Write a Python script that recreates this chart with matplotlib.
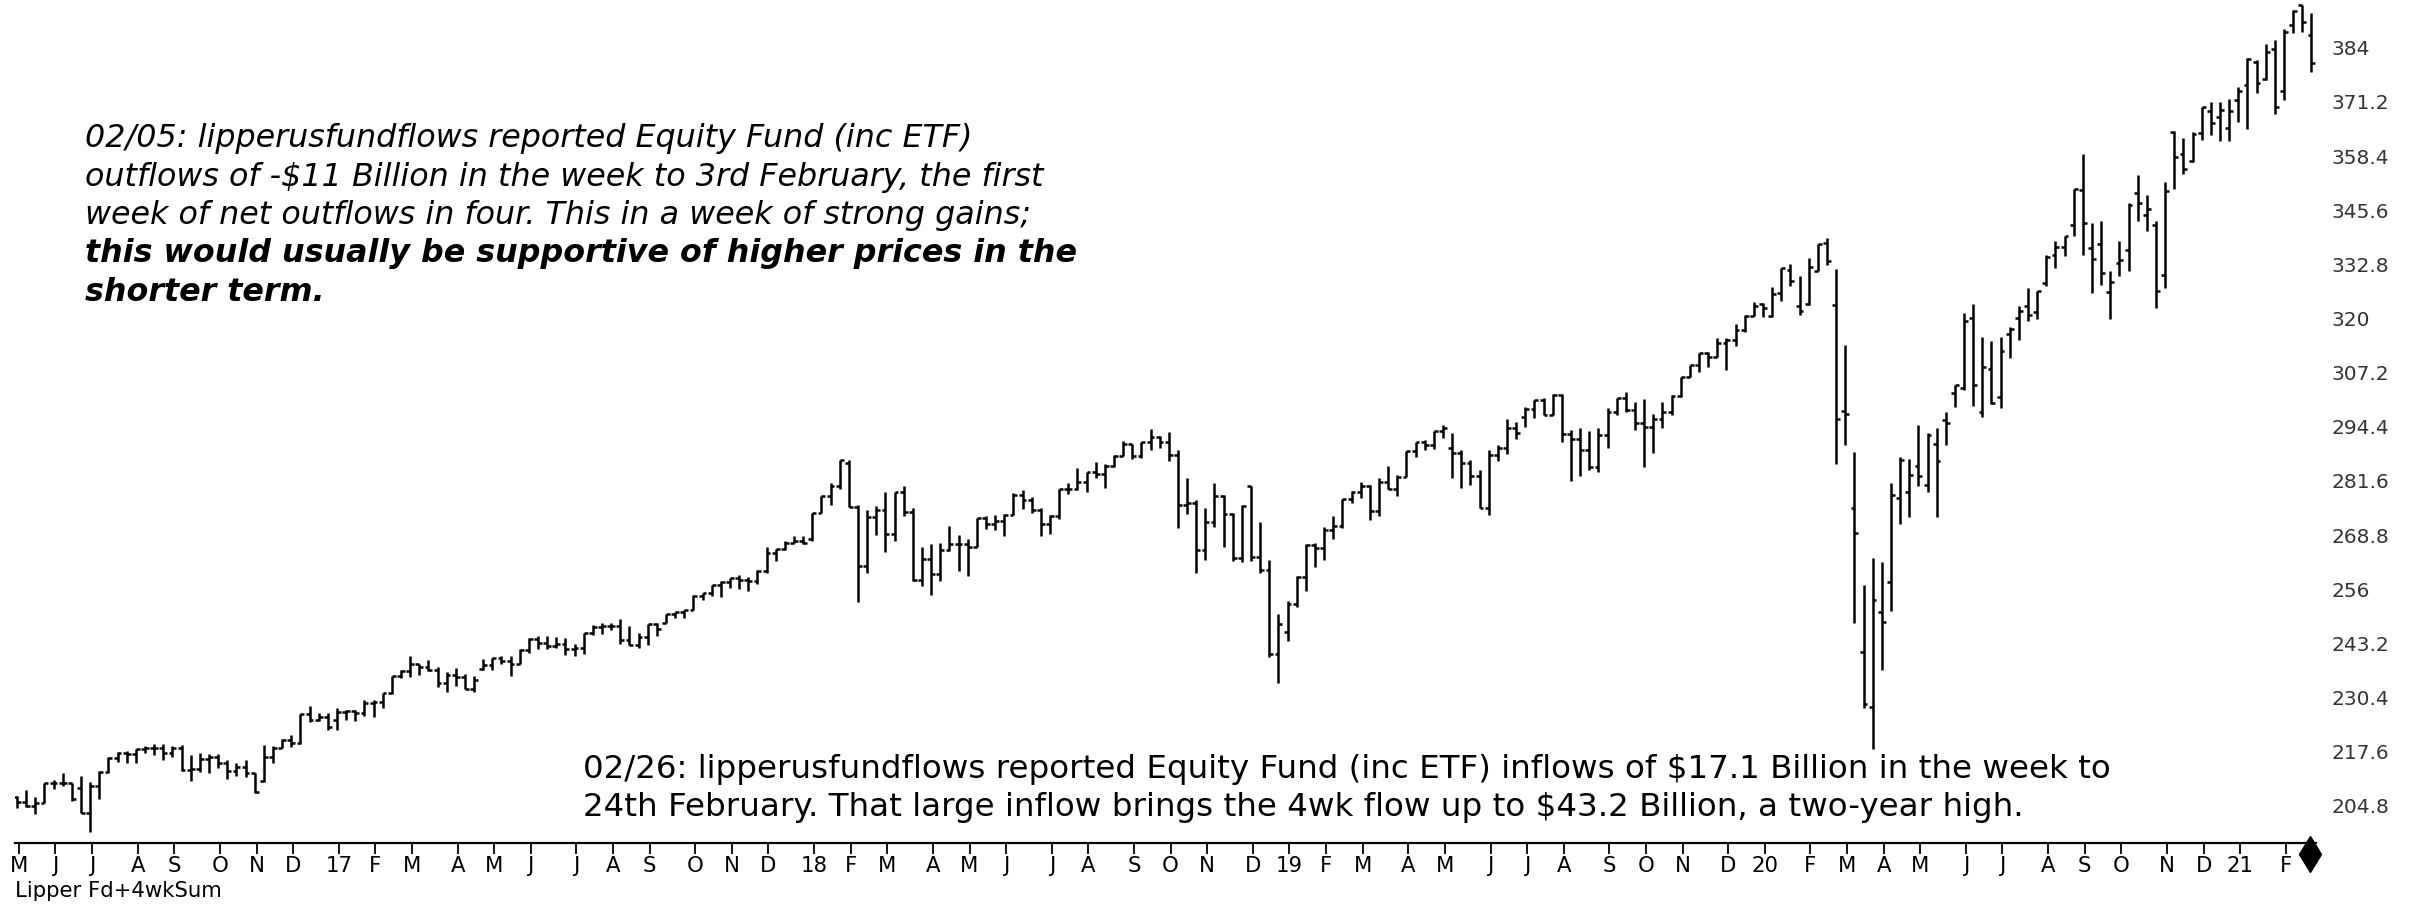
import numpy as np
import pandas as pd
import matplotlib
matplotlib.use("Agg")
import matplotlib.pyplot as plt
from matplotlib.transforms import blended_transform_factory

plt.rcParams['font.family'] = ['DejaVu Sans']

# weekly bars (week ending Friday), first bar 2016-05-06
first_week = "2016-05-06"

open_2016 = [206.9, 205.7, 204.8, 205.5, 210.2, 210.3, 210.1, 208.9, 203.2, 209.5, 212.7, 216.1, 217.2, 217.1, 218.2,
             218.5, 218.5, 217.3, 218.4, 213.3, 213.4, 215.8, 216.3, 215.0, 213.1, 214.0, 212.5, 210.7, 216.4, 218.5,
             220.4, 219.7, 226.5, 225.0, 225.7]
high_2016 = [207.0, 208.5, 206.8, 210.3, 211.0, 212.5, 210.3, 211.8, 210.5, 213.0, 216.3, 217.5, 217.7, 218.3, 219.0,
             219.3, 219.5, 218.9, 219.2, 216.7, 217.2, 217.1, 217.1, 215.7, 214.9, 215.7, 212.6, 219.2, 218.9, 220.5,
             221.5, 226.5, 228.3, 226.8, 226.7]
low_2016 = [204.2, 204.5, 202.8, 205.5, 208.7, 209.4, 205.9, 203.0, 198.6, 206.5, 212.6, 215.1, 214.8, 214.8, 217.3,
            216.9, 215.7, 216.4, 213.1, 210.7, 212.8, 212.6, 213.7, 211.2, 211.9, 211.6, 207.9, 210.4, 214.9, 218.5,
            218.7, 219.3, 224.7, 224.9, 222.7]
close_2016 = [205.7, 204.8, 205.5, 210.2, 210.3, 210.1, 206.5, 203.2, 209.5, 212.7, 216.1, 217.2, 217.1, 218.2, 218.5,
              218.5, 217.3, 218.4, 213.3, 213.4, 215.8, 216.3, 215.0, 213.1, 214.0, 212.5, 208.0, 216.4, 218.5, 220.4,
              219.7, 226.5, 225.0, 225.7, 223.5]

open_2017 = [225.0, 227.0, 227.1, 226.7, 229.0, 229.3, 231.5, 235.4, 236.7, 238.4, 237.7, 237.0, 233.9, 235.7, 235.2,
             232.5, 237.2, 238.1, 239.7, 239.0, 238.3, 241.7, 244.2, 243.4, 242.6, 243.1, 241.8, 242.1, 245.6, 247.1,
             247.3, 247.4, 244.1, 242.7, 244.6, 247.8, 248.0, 250.1, 250.6, 251.2, 254.4, 255.0, 257.1, 257.7, 258.7,
             258.1, 257.9, 260.4, 264.5, 265.5, 267.0, 267.5]
high_2017 = [227.8, 227.4, 227.4, 229.7, 229.7, 231.5, 235.4, 236.8, 240.3, 238.4, 239.2, 237.6, 236.5, 237.4, 236.0,
             235.5, 239.5, 239.7, 240.2, 240.2, 241.8, 244.4, 245.0, 245.0, 244.7, 244.4, 243.0, 245.6, 247.5, 248.0,
             248.0, 248.9, 247.3, 245.6, 247.8, 247.9, 250.1, 250.7, 251.2, 254.7, 255.0, 257.1, 257.9, 258.7, 259.4,
             259.0, 260.5, 266.0, 265.5, 267.3, 268.6, 268.6]
low_2017 = [222.8, 225.1, 224.9, 226.0, 225.7, 227.8, 231.3, 235.0, 235.2, 235.8, 236.6, 232.9, 231.6, 233.1, 232.5,
            231.6, 236.9, 237.0, 238.3, 235.4, 238.3, 240.9, 241.9, 241.8, 242.2, 240.4, 240.1, 240.6, 245.2, 245.5,
            246.4, 243.0, 242.7, 242.1, 242.9, 244.9, 248.0, 249.1, 249.1, 251.1, 253.5, 254.5, 254.1, 256.2, 256.1,
            255.6, 257.3, 259.9, 262.7, 265.2, 267.0, 266.6]
close_2017 = [227.0, 227.1, 226.7, 229.0, 229.3, 231.5, 235.4, 236.7, 238.4, 237.7, 237.0, 233.9, 235.7, 235.2, 232.5,
              234.6, 238.1, 239.7, 239.0, 238.3, 241.7, 244.2, 243.4, 242.6, 243.1, 241.8, 242.1, 245.6, 247.1, 247.3,
              247.4, 244.1, 242.7, 244.6, 247.8, 246.6, 250.1, 250.6, 251.2, 254.4, 255.0, 257.1, 257.7, 258.7, 258.1,
              257.9, 260.4, 264.5, 265.5, 267.0, 267.5, 266.9]

open_2018 = [267.8, 274.0, 278.1, 280.4, 285.9, 275.5, 261.5, 273.1, 274.7, 269.1, 278.9, 274.2, 258.1, 263.2, 259.7,
             265.2, 266.6, 266.6, 266.0, 272.9, 271.3, 272.2, 273.6, 278.2, 277.1, 274.7, 271.3, 273.3, 279.6, 279.7,
             281.4, 283.6, 283.2, 285.1, 287.5, 290.3, 287.6, 290.9, 292.0, 290.7, 287.8, 276.0, 276.3, 265.3, 271.9,
             278.0, 273.7, 263.3, 280.3, 263.6, 260.5, 240.7]
high_2018 = [274.1, 278.1, 281.0, 286.6, 286.6, 275.8, 274.7, 275.6, 278.9, 278.9, 280.4, 275.2, 265.9, 266.6, 267.0,
             271.0, 268.9, 267.9, 272.9, 273.4, 273.5, 273.7, 278.8, 279.5, 277.7, 275.3, 273.6, 279.8, 281.0, 284.6,
             283.7, 286.0, 285.6, 287.7, 291.1, 290.4, 290.9, 293.9, 292.2, 293.2, 288.9, 282.3, 277.1, 275.2, 281.2,
             278.3, 274.0, 276.0, 280.4, 272.0, 263.0, 250.2]
low_2018 = [267.4, 273.9, 276.0, 279.7, 275.4, 252.9, 259.8, 268.8, 264.8, 267.3, 273.2, 258.0, 256.7, 254.7, 258.0,
            265.0, 260.3, 259.1, 265.9, 270.3, 270.1, 268.5, 273.5, 275.0, 273.9, 268.5, 269.1, 272.7, 278.4, 279.4,
            278.9, 282.3, 280.0, 284.8, 287.4, 286.7, 287.1, 288.8, 289.3, 286.2, 270.4, 273.7, 259.9, 262.9, 270.8,
            266.0, 262.6, 262.4, 262.6, 259.9, 240.0, 233.8]
close_2018 = [274.0, 278.1, 280.4, 286.6, 275.5, 261.5, 273.1, 274.7, 269.1, 278.9, 274.2, 258.1, 263.2, 259.7, 265.2,
              266.6, 266.6, 266.0, 272.9, 271.3, 272.2, 273.6, 278.2, 277.1, 274.7, 271.3, 273.3, 279.6, 279.7, 281.4,
              283.6, 283.2, 285.1, 287.5, 290.3, 287.6, 290.9, 292.0, 290.7, 287.8, 276.0, 276.3, 265.3, 271.9, 278.0,
              273.7, 263.3, 275.7, 263.6, 260.5, 240.7, 247.8]

open_2019 = [246.0, 252.4, 259.0, 266.5, 265.8, 270.1, 271.0, 277.4, 279.1, 280.4, 274.5, 281.3, 279.6, 282.5, 288.6,
             290.7, 290.0, 293.4, 289.3, 288.1, 285.8, 282.8, 275.3, 287.7, 289.3, 294.0, 296.7, 298.5, 300.7, 297.2,
             302.0, 292.6, 291.6, 288.9, 284.9, 292.5, 297.8, 301.1, 298.3, 295.4, 294.4, 296.3, 298.0, 301.6, 306.1,
             309.0, 311.8, 311.0, 314.3, 314.9, 317.3, 320.7]
high_2019 = [253.1, 259.2, 266.8, 266.9, 270.7, 273.4, 277.4, 279.3, 281.3, 280.6, 282.2, 285.2, 283.0, 288.6, 290.7,
             291.2, 293.5, 294.9, 293.0, 289.0, 286.6, 284.2, 288.8, 290.0, 296.3, 295.6, 299.0, 300.7, 301.1, 302.2,
             302.2, 293.6, 294.1, 293.3, 294.2, 298.8, 301.2, 302.6, 300.2, 301.0, 297.5, 300.2, 302.0, 306.2, 309.0,
             311.8, 312.0, 315.5, 315.5, 318.7, 320.9, 323.8]
low_2019 = [243.7, 251.7, 255.5, 261.3, 263.0, 267.8, 270.4, 276.3, 277.6, 272.4, 273.4, 279.6, 278.0, 282.5, 287.3,
            288.8, 289.1, 291.8, 282.3, 279.9, 280.6, 275.1, 273.6, 286.4, 288.0, 291.4, 294.3, 296.4, 297.2, 297.2,
            290.9, 281.7, 282.8, 284.3, 283.8, 289.3, 297.3, 297.9, 293.7, 284.8, 288.1, 294.1, 297.1, 301.5, 306.1,
            307.3, 308.5, 311.0, 307.8, 313.6, 316.7, 320.5]
close_2019 = [252.4, 259.0, 266.5, 265.8, 270.1, 271.0, 277.4, 279.1, 280.4, 274.5, 281.3, 279.6, 282.5, 288.6, 290.7,
              290.0, 293.4, 294.0, 288.1, 285.8, 282.8, 275.3, 287.7, 289.3, 294.0, 293.0, 298.5, 300.7, 297.2, 302.0,
              292.6, 291.6, 288.9, 284.9, 292.5, 297.8, 301.1, 298.3, 295.4, 294.4, 296.3, 298.0, 301.6, 306.1, 309.0,
              311.8, 311.0, 314.3, 314.9, 317.3, 320.7, 322.9]

open_2020 = [323.5, 320.5, 326.0, 331.4, 323.0, 323.4, 331.2, 337.8, 323.1, 298.2, 275.3, 241.2, 228.2, 250.7, 257.8,
             277.6, 279.1, 285.1, 280.7, 290.3, 296.0, 302.5, 303.6, 320.2, 298.0, 308.0, 301.4, 316.4, 320.1, 323.0,
             321.6, 328.3, 335.1, 336.8, 342.1, 350.4, 336.7, 337.5, 326.3, 333.1, 336.1, 349.6, 344.5, 342.1, 330.2,
             364.0, 359.0, 357.3, 363.8, 369.0, 367.6, 365.0, 371.7]
high_2020 = [323.6, 327.5, 332.0, 333.0, 330.0, 334.2, 337.7, 339.1, 331.8, 313.8, 288.5, 257.0, 263.3, 262.5, 281.2,
             287.3, 286.8, 294.9, 293.0, 294.2, 297.9, 304.3, 321.3, 323.4, 315.6, 314.6, 315.7, 317.9, 323.0, 327.2,
             326.6, 334.9, 338.3, 339.6, 350.7, 358.8, 342.6, 343.1, 331.2, 338.3, 347.4, 354.0, 349.3, 343.0, 352.2,
             364.4, 362.6, 364.2, 369.9, 371.1, 371.2, 371.9, 374.7]
low_2020 = [320.3, 320.4, 324.2, 327.6, 320.8, 323.3, 331.2, 332.6, 285.5, 290.2, 248.0, 228.0, 218.3, 236.9, 250.9,
            271.4, 273.0, 280.4, 279.1, 273.0, 290.2, 299.0, 303.1, 299.4, 296.7, 299.8, 298.9, 310.7, 314.9, 319.3,
            319.8, 327.7, 332.0, 334.8, 339.5, 334.9, 326.0, 328.0, 319.8, 330.1, 331.2, 343.1, 340.6, 322.6, 327.2,
            350.5, 354.2, 357.0, 362.1, 363.3, 362.0, 362.0, 366.5]
close_2020 = [322.4, 325.7, 332.0, 328.8, 321.7, 332.2, 337.6, 333.5, 296.3, 297.5, 269.3, 228.8, 253.4, 248.2, 278.2,
              286.6, 283.0, 282.8, 292.4, 286.3, 295.4, 304.3, 319.3, 304.2, 308.6, 300.1, 312.2, 317.6, 321.7, 320.9,
              326.5, 334.6, 336.8, 339.5, 350.6, 342.6, 334.1, 330.7, 328.7, 333.8, 346.9, 347.3, 345.8, 326.5, 350.2,
              358.1, 355.3, 363.7, 369.9, 366.3, 369.2, 369.0, 373.9]

open_2021 = [375.3, 380.6, 376.7, 383.7, 373.7, 389.3, 394.0, 387.1]
high_2021 = [381.5, 381.1, 384.8, 385.9, 388.5, 392.9, 394.2, 392.2]
low_2021 = [364.8, 373.4, 376.4, 368.3, 371.6, 387.5, 387.7, 378.2]
close_2021 = [381.3, 375.7, 382.9, 370.1, 387.7, 392.6, 390.0, 380.4]

month_labels = ("M J J A S O N D "
                "17 F M A M J J A S O N D "
                "18 F M A M J J A S O N D "
                "19 F M A M J J A S O N D "
                "20 F M A M J J A S O N D "
                "21 F").split()
y_ticks = [204.8, 217.6, 230.4, 243.2, 256, 268.8, 281.6, 294.4, 307.2, 320, 332.8, 345.6, 358.4, 371.2, 384]

note_top = [
    ("02/05: lipperusfundflows reported Equity Fund (inc ETF)", "normal"),
    ("outflows of -$11 Billion in the week to 3rd February, the first", "normal"),
    ("week of net outflows in four. This in a week of strong gains;", "normal"),
    ("this would usually be supportive of higher prices in the", "bold"),
    ("shorter term.", "bold"),
]
note_bottom = [
    "02/26: lipperusfundflows reported Equity Fund (inc ETF) inflows of $17.1 Billion in the week to",
    "24th February. That large inflow brings the 4wk flow up to $43.2 Billion, a two-year high.",
]

opens = np.array(open_2016 + open_2017 + open_2018 + open_2019 + open_2020 + open_2021)
highs = np.array(high_2016 + high_2017 + high_2018 + high_2019 + high_2020 + high_2021)
lows = np.array(low_2016 + low_2017 + low_2018 + low_2019 + low_2020 + low_2021)
closes = np.array(close_2016 + close_2017 + close_2018 + close_2019 + close_2020 + close_2021)
n = len(closes)
x = np.arange(n)

dates = pd.date_range(first_week, periods=n, freq="7D")
mkey = dates.year * 12 + dates.month
tick_idx = np.flatnonzero(np.r_[True, np.diff(mkey) != 0])

W, H = 2425, 905
fig = plt.figure(figsize=(W / 100, H / 100), dpi=100)
ax = fig.add_axes([15 / W, 1 - 843 / H, 2301 / W, 843 / H])

# OHLC bars
ax.vlines(x, lows, highs, color="black", lw=1.8)
ax.hlines(opens, x - 0.42, x, color="black", lw=1.8)
ax.hlines(closes, x, x + 0.42, color="black", lw=1.8)

ax.set_xlim(-0.22, 251.5)
ax.set_ylim(196.0, 395.3)

for s in ["top", "left", "right"]:
    ax.spines[s].set_visible(False)
ax.spines["bottom"].set_linewidth(1.6)

ax.set_xticks(tick_idx + 0.2, month_labels)
ax.tick_params(axis="x", length=8, width=1.3, direction="out", pad=1, labelsize=15.3)

ax.yaxis.tick_right()
ax.set_yticks(y_ticks, [f"{v:g}" for v in y_ticks])
ax.tick_params(axis="y", length=0, pad=11, labelsize=14.5, labelcolor="#333333")

# end-of-data marker
trans = blended_transform_factory(ax.transData, ax.transAxes)
ax.plot([n - 1.2], [-0.013], marker="d", ms=18, color="black", transform=trans, clip_on=False)

fig.text(15 / W, 1 - 891 / H, "Lipper Fd+4wkSum", fontsize=15.3, va="center", ha="left")

for i, (line, wt) in enumerate(note_top):
    fig.text(85 / W, 1 - (139 + 38.3 * i) / H, line, fontsize=22.9, style="italic",
             weight=wt, va="center", ha="left")

for i, line in enumerate(note_bottom):
    fig.text(583 / W, 1 - (769 + 38 * i) / H, line, fontsize=23.4,
             va="center", ha="left")

fig.savefig("out.png", dpi=100)
